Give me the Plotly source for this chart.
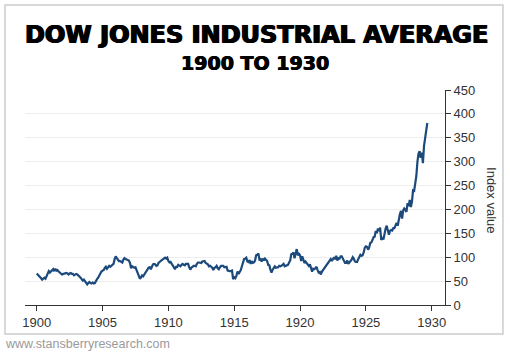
import plotly.graph_objects as go

# Monthly Dow Jones Industrial Average closes (approximate), Jan 1900 - Sep 1929
dow_1900s = [
    66, 64, 61, 60, 56, 53, 55, 57, 55, 60, 68, 71,   # 1900
    68, 70, 72, 75, 71, 76, 72, 73, 70, 67, 66, 64,   # 1901
    65, 65, 66, 67, 66, 64, 66, 67, 65, 65, 62, 64,   # 1902
    65, 64, 62, 61, 57, 54, 51, 53, 49, 47, 43, 46,   # 1903
    48, 46, 45, 47, 45, 46, 51, 54, 57, 62, 67, 70,   # 1904
    72, 73, 77, 80, 76, 79, 82, 80, 82, 84, 86, 96,   # 1905
    102, 98, 95, 92, 92, 90, 89, 95, 98, 96, 95, 94,  # 1906
    93, 88, 77, 81, 80, 78, 79, 72, 70, 60, 55, 58,   # 1907
    62, 60, 64, 67, 73, 75, 78, 79, 75, 80, 85, 86,   # 1908
    85, 82, 83, 88, 91, 92, 94, 96, 97, 99, 97, 99,   # 1909
]
dow_1910s = [
    92, 89, 90, 86, 84, 79, 75, 80, 80, 84, 83, 81,   # 1910
    84, 86, 84, 83, 86, 86, 86, 79, 74, 78, 81, 82,   # 1911
    82, 81, 86, 89, 89, 88, 88, 91, 92, 92, 88, 87,   # 1912
    85, 81, 82, 80, 78, 73, 78, 79, 82, 77, 75, 79,   # 1913
    82, 82, 82, 79, 80, 80, 72, 71, 71, 71, 72, 54,   # 1914
    58, 56, 61, 70, 65, 69, 73, 81, 90, 96, 97, 99,   # 1915
    91, 90, 94, 86, 92, 88, 89, 93, 104, 105, 108, 95,  # 1916
    96, 91, 97, 93, 97, 95, 92, 84, 83, 74, 68, 74,   # 1917
    79, 81, 78, 79, 79, 82, 81, 82, 84, 86, 81, 82,   # 1918
    82, 84, 89, 93, 106, 107, 110, 98, 108, 117, 104, 107,  # 1919
]
dow_1920s = [
    104, 92, 102, 93, 88, 91, 87, 84, 82, 85, 76, 70,   # 1920
    76, 75, 77, 80, 73, 68, 69, 64, 70, 73, 77, 81,     # 1921
    82, 85, 89, 93, 96, 92, 96, 100, 96, 103, 93, 98,   # 1922
    97, 102, 102, 96, 92, 88, 88, 93, 86, 88, 92, 95,   # 1923
    100, 97, 91, 90, 90, 96, 102, 105, 103, 104, 110, 120,  # 1924
    123, 122, 116, 120, 130, 131, 136, 142, 143, 155, 150, 160,  # 1925
    157, 162, 136, 142, 137, 152, 160, 166, 158, 147, 155, 157,  # 1926
    156, 161, 161, 166, 172, 166, 182, 190, 197, 181, 198, 202,  # 1927
    199, 195, 213, 207, 220, 205, 216, 240, 239, 252, 270, 300,  # 1928
    317, 322, 308, 319, 297, 333, 347, 365, 381,                 # 1929
]

start_year = 1900
x_ticks = [1900, 1905, 1910, 1915, 1920, 1925, 1930]
y_ticks = [0, 50, 100, 150, 200, 250, 300, 350, 400, 450]

values = dow_1900s + dow_1910s + dow_1920s
dates = [start_year + i / 12 for i in range(len(values))]

fig = go.Figure()
fig.add_trace(go.Scatter(
    x=dates, y=values, mode="lines",
    line=dict(color="#1c4a7c", width=2.2),
    hoverinfo="skip", showlegend=False,
))

tick_font = dict(family="Liberation Sans, Arial, sans-serif", size=13, color="#333333")

fig.update_layout(
    width=510, height=354,
    margin=dict(l=25, r=65, t=90, b=49),
    paper_bgcolor="white", plot_bgcolor="white",
    xaxis=dict(
        range=[1899.11, 1931.01],
        tickvals=x_ticks, ticktext=[str(t) for t in x_ticks],
        ticks="outside", ticklen=5, tickcolor="#333333", tickwidth=1,
        showline=True, linecolor="#333333", linewidth=1,
        showgrid=False, zeroline=False, tickfont=tick_font,
    ),
    yaxis=dict(
        range=[0, 450], side="right",
        tickvals=y_ticks, ticktext=[str(t) for t in y_ticks],
        ticks="outside", ticklen=5, tickcolor="#333333", tickwidth=1,
        showline=True, linecolor="#333333", linewidth=1,
        showgrid=True, gridcolor="#eeeeee", gridwidth=1,
        zeroline=False, tickfont=tick_font,
    ),
    shapes=[dict(
        type="rect", xref="paper", yref="paper",
        x0=-0.0476, x1=1.138, y0=-0.135, y1=1.395,
        line=dict(color="#cccccc", width=1.5), fillcolor="rgba(0,0,0,0)",
        layer="below",
    )],
    annotations=[
        dict(text="<b>DOW JONES INDUSTRIAL AVERAGE</b>", xref="paper", yref="paper",
             x=0.552, y=1.258, xanchor="center", yanchor="middle", showarrow=False,
             font=dict(family="DejaVu Sans", size=24, color="#000000",
                       shadow="0.8px 0 0 #000, -0.8px 0 0 #000")),
        dict(text="<b>1900 TO 1930</b>", xref="paper", yref="paper",
             x=0.548, y=1.126, xanchor="center", yanchor="middle", showarrow=False,
             font=dict(family="DejaVu Sans", size=19, color="#000000",
                       shadow="0.5px 0 0 #000, -0.5px 0 0 #000")),
        dict(text="Index value", xref="paper", yref="paper",
             x=1.112, y=0.488, xanchor="center", yanchor="middle", showarrow=False,
             textangle=90, font=dict(family="Liberation Sans, Arial, sans-serif", size=13, color="#333333")),
        dict(text="www.stansberryresearch.com", xref="paper", yref="paper",
             x=-0.053, y=-0.181, xanchor="left", yanchor="middle", showarrow=False,
             font=dict(family="Liberation Sans, Arial, sans-serif", size=12.5, color="#9a9a9a")),
    ],
)

fig.write_html("out.html")
